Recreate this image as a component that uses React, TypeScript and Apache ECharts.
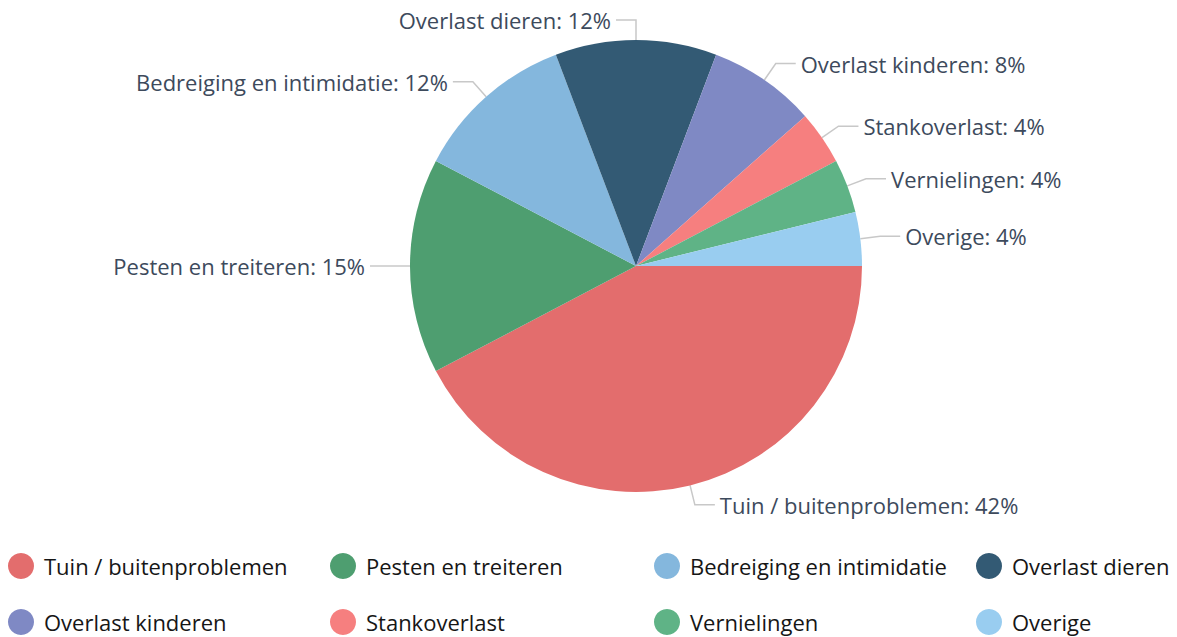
import React, { useEffect, useRef } from "react";
import * as echarts from "echarts";

const categories = [
  "Tuin / buitenproblemen",
  "Pesten en treiteren",
  "Bedreiging en intimidatie",
  "Overlast dieren",
  "Overlast kinderen",
  "Stankoverlast",
  "Vernielingen",
  "Overige",
];
const counts = [11, 4, 3, 3, 2, 1, 1, 1];
const colors = ["#e36d6d", "#4e9e70", "#84b7dd", "#335a74", "#7f89c4", "#f67f7f", "#5fb386", "#99cdf0"];

const legendColumns = [
  [0, 4],
  [1, 5],
  [2, 6],
  [3, 7],
];
const legendLefts = [8, 330, 654, 976];

export default function App() {
  const ref = useRef<HTMLDivElement>(null);
  useEffect(() => {
    document.body.style.margin = "0";
    const chart = echarts.init(ref.current!, null, { renderer: "svg" });
    const total = counts.reduce((a, b) => a + b, 0);
    const font = "'Open Sans', sans-serif";
    chart.setOption({
      animation: false,
      color: colors,
      legend: legendColumns.map((col, i) => ({
        orient: "vertical",
        left: legendLefts[i],
        top: 553,
        height: 84,
        padding: 0,
        icon: "circle",
        itemWidth: 26,
        itemHeight: 26,
        itemGap: 30,
        data: col.map((k) => categories[k]),
        textStyle: { fontSize: 22, color: "#161616", fontFamily: font, padding: [0, 0, 0, 5] },
      })),
      series: [
        {
          type: "pie",
          center: [636, 266],
          radius: 226,
          startAngle: 0,
          clockwise: true,
          data: categories.map((c, i) => ({ name: c, value: counts[i] })),
          itemStyle: { borderWidth: 0 },
          label: {
            formatter: (p: any) => `${p.name}: ${Math.round((p.value / total) * 100)}%`,
            fontSize: 22,
            color: "#3d4a5c",
            fontFamily: font,
          },
          labelLine: { length: 20, length2: 20, lineStyle: { color: "#c8c8c8", width: 1.5 } },
          emphasis: { disabled: true },
        },
      ],
    });
    return () => chart.dispose();
  }, []);
  return <div ref={ref} style={{ width: 1177, height: 637 }} />;
}
